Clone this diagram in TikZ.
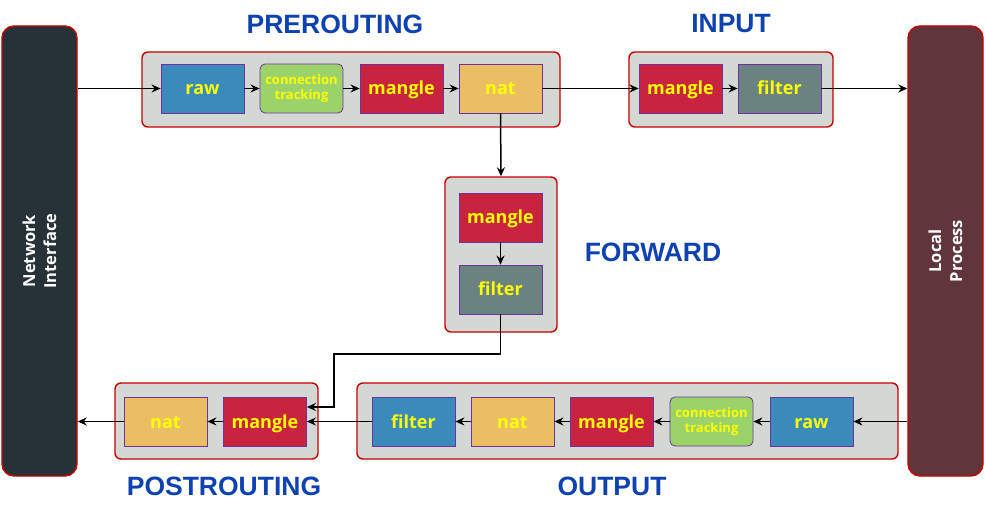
\documentclass[tikz,border=0pt]{standalone}
\usepackage{fontspec}
\setmainfont{Open Sans}
\newfontfamily\headfont{Liberation Sans}
\newfontfamily\sidefont{Open Sans}
\usetikzlibrary{arrows.meta,positioning}
\definecolor{contfill}{HTML}{D4D8D4}
\definecolor{contedge}{HTML}{C80000}
\definecolor{boxedge}{HTML}{7030A0}
\definecolor{cblue}{HTML}{3A8BBB}
\definecolor{cgreen}{HTML}{9BD36A}
\definecolor{cmangle}{HTML}{C8243F}
\definecolor{cnat}{HTML}{EBBE63}
\definecolor{cgray}{HTML}{6A8380}
\definecolor{nidark}{HTML}{263238}
\definecolor{lpdark}{HTML}{60363C}
\definecolor{headblue}{HTML}{0E42B0}
\definecolor{txtyellow}{HTML}{FFFF00}
\tikzset{
  cont/.style={draw=contedge, fill=contfill, line width=1.4pt, rounded corners=6pt, inner sep=0pt},
  chainbox/.style={draw=boxedge, line width=0.8pt, minimum width=83pt, minimum height=49pt, inner sep=0pt,
    text height=13pt, text depth=0pt,
    text=txtyellow, font=\sidefont\bfseries\fontsize{18}{20}\selectfont},
  ctbox/.style={chainbox, rounded corners=5pt, text height=, text depth=,
    font=\sidefont\bfseries\fontsize{13}{15}\selectfont, align=center},
  side/.style={draw=contedge, line width=1.4pt, rounded corners=12pt, minimum width=75pt, minimum height=450pt,
    inner sep=0pt},
  sidetext/.style={text=white, rotate=90, align=center, font=\sidefont\bfseries\fontsize{16.5}{21}\selectfont},
  head/.style={text=headblue, font=\headfont\bfseries\fontsize{26.5}{28}\selectfont},
  arr/.style={draw=black, line width=1.5pt, -{Stealth[length=9pt,width=8pt]}},
}
\begin{document}
\begin{tikzpicture}[x=1pt,y=-1pt]
\useasboundingbox (0,0) rectangle (985,521);

% side blocks
\node[side, fill=nidark] (ni) at (39.5,251) {};
\node[sidetext] (nitext) at (39.5,251) {Network\\Interface};
\node[side, fill=lpdark] (lp) at (945.5,251) {};
\node[sidetext] (lptext) at (945.5,251) {Local\\Process};

% containers
\node[cont, minimum width=418pt, minimum height=75pt] (pre) at (351,89.5) {};
\node[cont, minimum width=204pt, minimum height=75pt] (inp) at (731,89.5) {};
\node[cont, minimum width=112pt, minimum height=155pt] (fwd) at (501,254.5) {};
\node[cont, minimum width=203pt, minimum height=76pt] (post) at (216.5,421) {};
\node[cont, minimum width=541pt, minimum height=76pt] (out) at (627.5,421) {};

% headings
\node[head] (hpre) at (335,24) {PREROUTING};
\node[head] (hinp) at (731,24) {INPUT};
\node[head] (hfwd) at (653,252) {FORWARD};
\node[head] (hpost) at (224,486) {POSTROUTING};
\node[head] (hout) at (612,486) {OUTPUT};

% PREROUTING
\node[chainbox, fill=cblue] (praw) at (202.5,88.5) {raw};
\node[ctbox, fill=cgreen] (pct) at (301.5,88.5) {connection\\tracking};
\node[chainbox, fill=cmangle] (pman) at (401.5,88.5) {mangle};
\node[chainbox, fill=cnat] (pnat) at (500.5,88.5) {nat};

% INPUT
\node[chainbox, fill=cmangle] (iman) at (680.5,88.5) {mangle};
\node[chainbox, fill=cgray] (ifil) at (779.5,88.5) {filter};

% FORWARD
\node[chainbox, fill=cmangle] (fman) at (500.5,217.5) {mangle};
\node[chainbox, fill=cgray] (ffil) at (500.5,289.5) {filter};

% POSTROUTING
\node[chainbox, fill=cnat] (qnat) at (165.5,421.5) {nat};
\node[chainbox, fill=cmangle] (qman) at (265,421.5) {mangle};

% OUTPUT
\node[chainbox, fill=cblue] (ofil) at (413.5,421.5) {filter};
\node[chainbox, fill=cnat] (onat) at (512.5,421.5) {nat};
\node[chainbox, fill=cmangle] (oman) at (611.5,421.5) {mangle};
\node[ctbox, fill=cgreen] (oct) at (711.5,421.5) {connection\\tracking};
\node[chainbox, fill=cblue] (oraw) at (811.5,421.5) {raw};

\coordinate (bend) at (334,354);

% connectors
\draw[arr] (ni.east |- praw.west) -- (praw.west);
\draw[arr] (praw) -- (pct);
\draw[arr] (pct) -- (pman);
\draw[arr] (pman) -- (pnat);
\draw[arr] (pnat.east) -- (iman.west);
\draw[arr] (iman) -- (ifil);
\draw[arr] (ifil.east) -- (lp.west |- ifil.east);
\draw[arr] (pnat.south) -- (fwd.north);
\draw[arr] (fman) -- (ffil);
\draw[arr] (ffil.south) |- (bend) |- ([yshift=14.5pt]qman.east);
\draw[arr] (lp.west |- oraw.east) -- (oraw.east);
\draw[arr] (oraw) -- (oct);
\draw[arr] (oct) -- (oman);
\draw[arr] (oman) -- (onat);
\draw[arr] (onat) -- (ofil);
\draw[arr] (ofil.west) -- (qman.east);
\draw[arr] (qman) -- (qnat);
\draw[arr] (qnat.west) -- (ni.east |- qnat.west);
\end{tikzpicture}
\end{document}
